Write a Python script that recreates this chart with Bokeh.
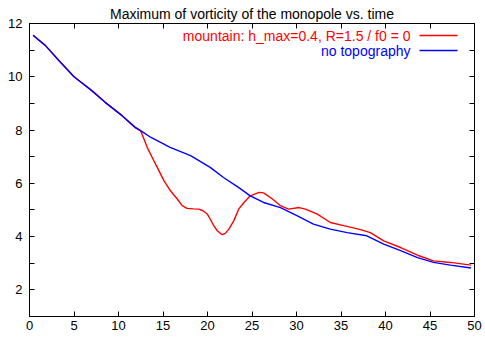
from bokeh.plotting import figure
from bokeh.models import (Range1d, FixedTicker, LinearAxis, Label, BoxAnnotation)
from bokeh.embed import file_html
from bokeh.resources import INLINE

# --- data ---
title_text = "Maximum of vorticity of the monopole vs. time"
label_mountain = "mountain: h_max=0.4, R=1.5 / f0 = 0"
label_flat = "no topography"

t_flat = [0.4, 1.8, 3.3, 5.0, 7.0, 8.5, 10.4, 11.9, 12.7, 13.6, 15.8, 18.1, 20.3,
          21.8, 23.6, 24.8, 26.3, 28.2, 30.1, 31.9, 33.8, 35.7, 37.9, 39.8,
          41.7, 43.6, 45.4, 47.3, 49.6]
v_flat = [11.56, 11.17, 10.61, 10.0, 9.48, 9.04, 8.54, 8.10, 7.93, 7.73, 7.35, 7.04,
          6.60, 6.22, 5.82, 5.53, 5.28, 5.09, 4.78, 4.47, 4.28, 4.15, 4.03,
          3.72, 3.47, 3.21, 3.03, 2.93, 2.82]

t_mount = [0.4, 1.8, 3.3, 5.0, 7.0, 8.5, 10.4, 11.9, 12.47, 12.85, 13.22, 13.79,
           14.35, 15.1, 15.84, 16.6, 17.16, 17.7, 18.4, 19.03, 19.5, 19.96, 20.3,
           20.7, 21.1, 21.65, 22.0, 22.4, 22.95, 23.5, 24.1, 24.8, 25.8, 26.3,
           27.3, 28.2, 29.1, 30.3, 31.0, 32.3, 33.8, 35.3, 37.0, 38.3, 39.8, 41.7,
           43.6, 45.4, 47.3, 49.6]
v_mount = [11.56, 11.17, 10.61, 10.0, 9.48, 9.04, 8.54, 8.08, 7.98, 7.67, 7.35, 6.97,
           6.60, 6.10, 5.72, 5.41, 5.16, 5.06, 5.04, 5.03, 4.97, 4.85, 4.66,
           4.41, 4.22, 4.07, 4.12, 4.28, 4.59, 5.03, 5.28, 5.53, 5.66, 5.64,
           5.41, 5.16, 5.03, 5.09, 5.03, 4.85, 4.53, 4.41, 4.28, 4.15, 3.84, 3.59,
           3.30, 3.09, 3.03, 2.93]

x_ticks = [0, 5, 10, 15, 20, 25, 30, 35, 40, 45, 50]
y_ticks = [2, 4, 6, 8, 10, 12]
y_minor = [1, 3, 5, 7, 9, 11]

FONT = "Liberation Sans"
RED = "#ff0000"
BLUE = "#0000ff"

p = figure(width=485, height=340, output_backend="svg", toolbar_location=None,
           x_range=Range1d(0, 50), y_range=Range1d(1, 12),
           min_border_left=29, min_border_right=11, min_border_top=23,
           min_border_bottom=24)
p.title.text = title_text
p.title.align = "center"
p.title.text_font = FONT
p.title.text_font_size = "14px"
p.title.text_font_style = "normal"
p.title.text_color = "black"
p.title.standoff = 4
p.title.offset = 0

p.xgrid.visible = False
p.ygrid.visible = False
p.outline_line_color = "black"
p.outline_line_width = 1
p.background_fill_color = "white"
p.border_fill_color = "white"

def style_axis(ax, ticks, minor):
    ax.ticker = FixedTicker(ticks=ticks, minor_ticks=minor)
    ax.axis_line_color = "black"
    ax.major_tick_in = 5
    ax.major_tick_out = 0
    ax.minor_tick_in = 5
    ax.minor_tick_out = 0
    ax.major_tick_line_color = "black"
    ax.minor_tick_line_color = "black"
    ax.major_label_text_font = FONT
    ax.major_label_text_font_size = "13px"
    ax.major_label_text_color = "black"

style_axis(p.xaxis[0], x_ticks, [])
style_axis(p.yaxis[0], y_ticks, y_minor)
p.xaxis[0].major_label_standoff = 4
p.yaxis[0].major_label_standoff = 7

# mirror ticks (minor ticks only, so no labels are drawn)
ax_top = LinearAxis()
style_axis(ax_top, [], x_ticks)
p.add_layout(ax_top, "above")
ax_right = LinearAxis()
style_axis(ax_right, [], y_ticks + y_minor)
p.add_layout(ax_right, "right")

p.line(t_mount, v_mount, line_color=RED, line_width=1.4)
p.line(t_flat, v_flat, line_color=BLUE, line_width=1.4)

# legend (gnuplot-style: coloured text, sample line on the right)
for txt, col, ys in [(label_mountain, RED, 281), (label_flat, BLUE, 266)]:
    p.add_layout(Label(x=381, y=ys, x_units="screen", y_units="screen", text=txt,
                       text_color=col, text_font=FONT, text_font_size="14px",
                       text_align="right", text_baseline="middle"))
    p.add_layout(BoxAnnotation(left=390, right=428, bottom=ys - 0.7, top=ys + 0.7,
                               left_units="screen", right_units="screen",
                               bottom_units="screen", top_units="screen",
                               fill_color=col, fill_alpha=1, line_color=None))

open("out.html", "w").write(file_html(p, INLINE))
